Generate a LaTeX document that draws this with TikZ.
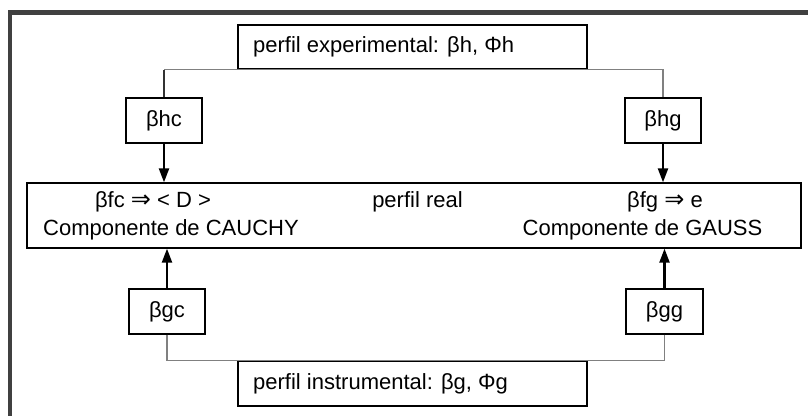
\documentclass[tikz,border=0pt]{standalone}
\usepackage{fontspec}
\setmainfont{Liberation Sans}
\newfontfamily\symfont{DejaVu Sans}
\usetikzlibrary{arrows.meta}
\definecolor{framegray}{HTML}{404040}
\definecolor{linkgray}{HTML}{808080}
\tikzset{
  boxnode/.style={draw=black, line width=1.3pt, inner sep=0pt, fill=white},
  txt/.style={inner sep=0pt, font=\fontsize{22}{26}\selectfont},
  arr/.style={line width=2.2pt, -{Triangle[length=14pt,width=10pt]}},
  link/.style={draw=linkgray, line width=1.3pt},
  darklink/.style={draw=black!80, line width=1.3pt}
}
\newcommand{\impl}{{\symfont\fontsize{24}{26}\selectfont ⇒}}
\begin{document}
\begin{tikzpicture}[x=1pt,y=1pt]
\useasboundingbox (0,0) rectangle (808,416);
\fill[white] (0,0) rectangle (808,416);
% frame
\fill[framegray] (8,401) rectangle (808,406);
\fill[framegray] (8,0) rectangle (12,406);
% nodes
\node[boxnode, minimum width=349pt, minimum height=44pt] (top) at (412.5,369) {};
\node[txt, anchor=west] (toptxt) at (253,369) {perfil experimental: βh, Φh};
\node[boxnode, minimum width=76pt, minimum height=45pt] (hc) at (164,295.5) {};
\node[txt] (hctxt) at (hc) {βhc};
\node[boxnode, minimum width=76pt, minimum height=45pt] (hg) at (663,295.5) {};
\node[txt] (hgtxt) at (hg) {βhg};
\node[boxnode, minimum width=774pt, minimum height=65pt] (main) at (414,200.5) {};
\node[txt] (fc) at (153,214) {βfc \impl{} < D >};
\node[txt] (cauchy) at (171,186) {Componente de CAUCHY};
\node[txt] (real) at (417.5,214) {perfil real};
\node[txt] (fg) at (665,214) {βfg \impl{} e};
\node[txt] (gauss) at (642.5,186) {Componente de GAUSS};
\node[boxnode, minimum width=76pt, minimum height=45pt] (gc) at (167,104.5) {};
\node[txt] (gctxt) at (gc) {βgc};
\node[boxnode, minimum width=77pt, minimum height=45pt] (gg) at (664.5,104.5) {};
\node[txt] (ggtxt) at (gg) {βgg};
\node[boxnode, minimum width=349pt, minimum height=45pt] (bot) at (412.5,32.5) {};
\node[txt, anchor=west] (bottxt) at (253,32.5) {perfil instrumental: βg, Φg};
% connectors
\draw[link] (top.south) -- (top.south -| hg.north) -- (hg.north);
\draw[link] (top.south) -- (top.south -| hc.north);
\draw[darklink] (top.south -| hc.north) -- (hc.north);
\draw[link] (gc.south) |- (bot.north);
\draw[link] (gg.south) |- (bot.north);
\draw[arr] (hc.south) -- (hc.south |- main.north);
\draw[arr] (hg.south) -- (hg.south |- main.north);
\draw[arr] (gc.north) -- (gc.north |- main.south);
\draw[arr] (gg.north) -- (gg.north |- main.south);
\end{tikzpicture}
\end{document}
